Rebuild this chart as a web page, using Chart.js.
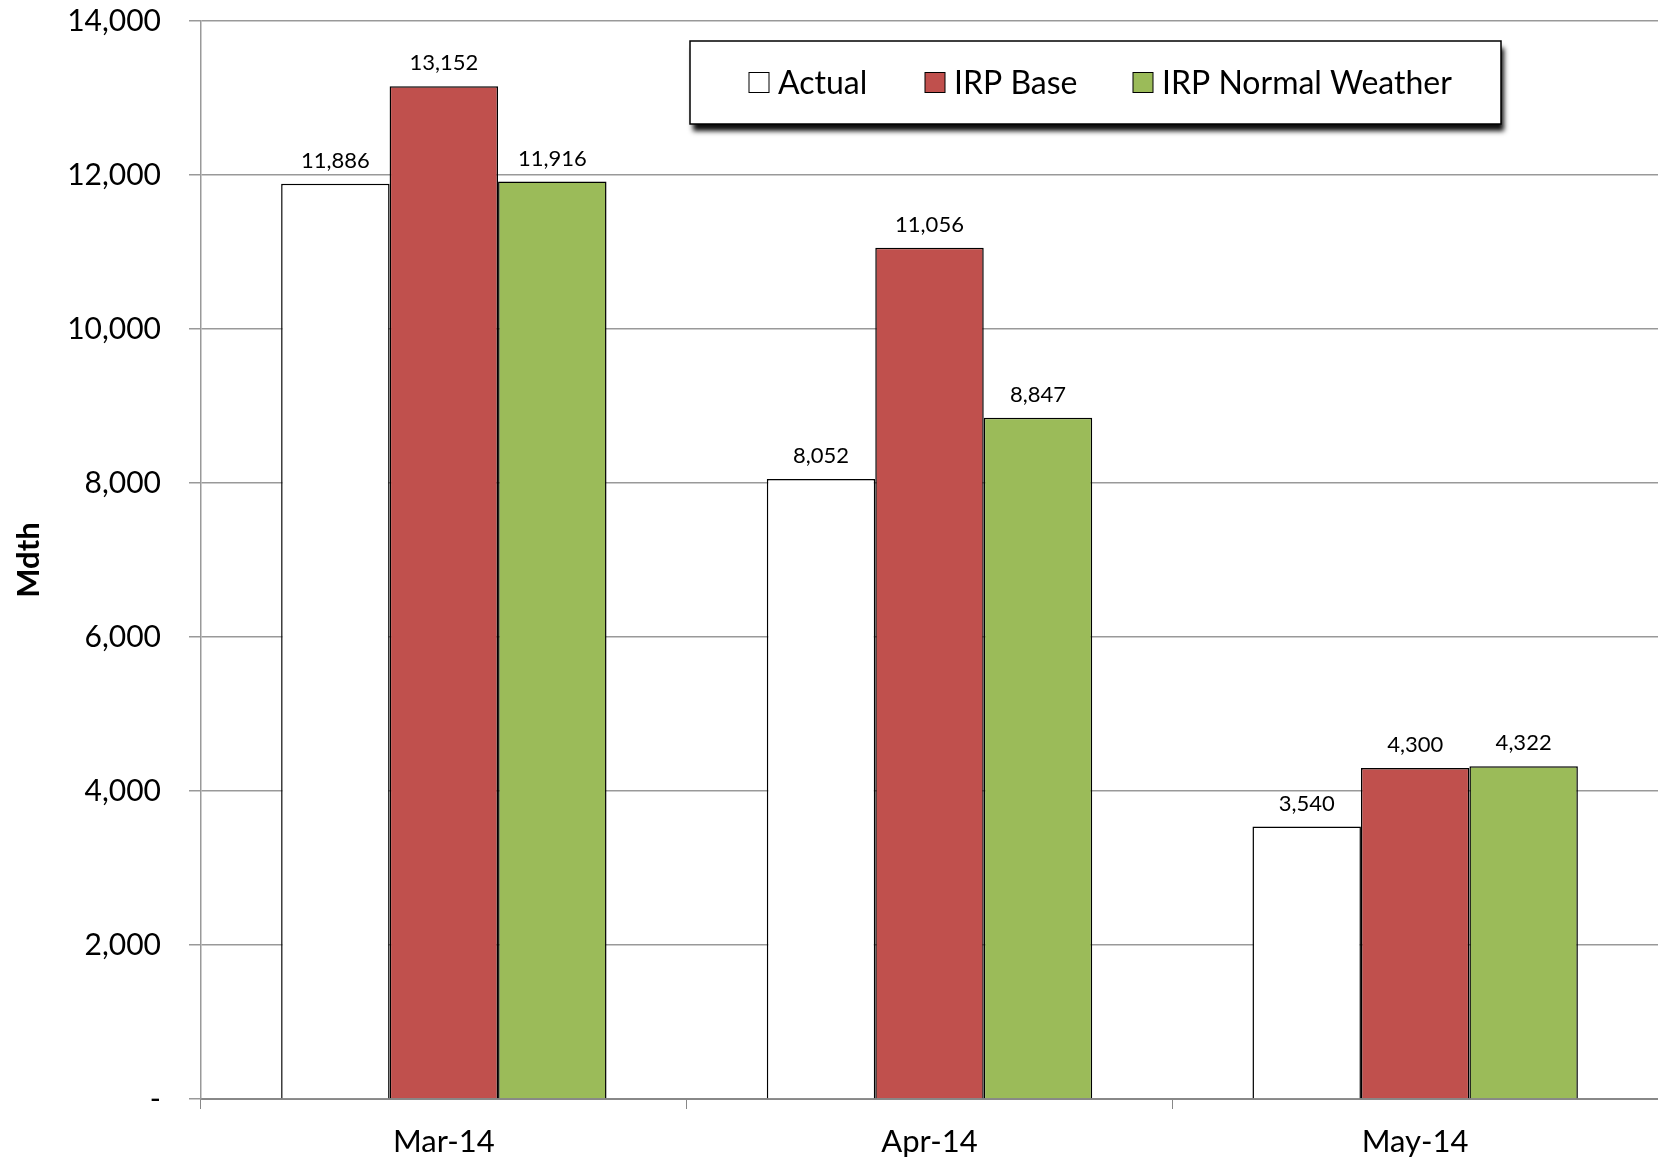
<!DOCTYPE html>
<html>
<head>
<meta charset="utf-8">
<script src="https://cdn.jsdelivr.net/npm/chart.js@4/dist/chart.umd.min.js"></script>
<style>
  html, body { margin: 0; padding: 0; background: #fff; }
  #wrap { width: 1658px; height: 1164px; position: relative; }
</style>
</head>
<body>
<div id="wrap"><canvas id="chart"></canvas></div>
<script>
// data
const months = ['Mar-14', 'Apr-14', 'May-14'];
const actual = [11886, 8052, 3540];
const irpBase = [13152, 11056, 4300];
const irpNormal = [11916, 8847, 4322];
const yTicks = [0, 2000, 4000, 6000, 8000, 10000, 12000, 14000];

const FONT = 'Lato, "Open Sans", sans-serif';
const fmt = v => v === 0 ? '-' : v.toLocaleString('en-US');

// value labels over each bar
const barLabels = {
    id: 'barLabels',
    afterDatasetsDraw(chart) {
        const ctx = chart.ctx;
        ctx.save();
        ctx.fillStyle = '#000';
        ctx.font = '22px ' + FONT;
        ctx.textAlign = 'center';
        ctx.textBaseline = 'bottom';
        chart.data.datasets.forEach((ds, i) => {
            chart.getDatasetMeta(i).data.forEach((bar, j) => {
                ctx.fillText(fmt(ds.data[j]), bar.x, bar.y - 12);
            });
        });
        ctx.restore();
    }
};

// boxed legend with drop shadow, inside the plot
const boxLegend = {
    id: 'boxLegend',
    afterDraw(chart) {
        const ctx = chart.ctx;
        const x = 690, y = 41, w = 811, h = 83;
        ctx.save();
        ctx.shadowColor = 'rgba(0,0,0,0.95)';
        ctx.shadowBlur = 5;
        ctx.shadowOffsetX = 3;
        ctx.shadowOffsetY = 7;
        ctx.fillStyle = '#fff';
        ctx.fillRect(x, y, w, h);
        ctx.restore();
        ctx.save();
        ctx.strokeStyle = '#000';
        ctx.lineWidth = 1.5;
        ctx.strokeRect(x, y, w, h);
        ctx.font = '32px ' + FONT;
        ctx.textBaseline = 'middle';
        const starts = [749, 925, 1133];
        chart.data.datasets.forEach((ds, i) => {
            const sx = starts[i], cy = y + h / 2;
            ctx.fillStyle = ds.backgroundColor;
            ctx.fillRect(sx, cy - 10, 20, 20);
            ctx.strokeStyle = '#000';
            ctx.lineWidth = 1;
            ctx.strokeRect(sx, cy - 10, 20, 20);
            ctx.fillStyle = '#000';
            ctx.fillText(ds.label, sx + 29, cy + 1);
        });
        ctx.restore();
    }
};

const barStyle = { borderColor: '#000', borderWidth: 1.5, barPercentage: 1.0, categoryPercentage: 0.67 };

new Chart(document.getElementById('chart'), {
    type: 'bar',
    data: {
        labels: months,
        datasets: [
            Object.assign({ label: 'Actual', data: actual, backgroundColor: '#ffffff' }, barStyle),
            Object.assign({ label: 'IRP Base', data: irpBase, backgroundColor: '#C0504D' }, barStyle),
            Object.assign({ label: 'IRP Normal Weather', data: irpNormal, backgroundColor: '#9BBB59' }, barStyle)
        ]
    },
    options: {
        responsive: true,
        maintainAspectRatio: false,
        animation: false,
        layout: { padding: { top: 21, right: 0, left: 10, bottom: 0 } },
        plugins: { legend: { display: false }, tooltip: { enabled: false } },
        scales: {
            x: {
                grid: { offset: true, drawOnChartArea: false, color: '#888', tickLength: 10 },
                border: { color: '#888', width: 2 },
                ticks: { color: '#000', font: { size: 31, family: FONT }, padding: 14 },
                afterFit: s => { s.height = 65; s.paddingLeft = 0; s.paddingRight = 0; }
            },
            y: {
                min: 0,
                max: 14000,
                afterBuildTicks: s => { s.ticks = yTicks.map(v => ({ value: v })); },
                grid: { color: '#999', lineWidth: 1.5, tickLength: 12 },
                border: { color: '#999', width: 1.5 },
                ticks: { color: '#000', font: { size: 30, family: FONT }, padding: 28, callback: v => fmt(v) },
                title: { display: true, text: 'Mdth', color: '#000', font: { size: 31, weight: 'bold', family: FONT }, padding: 0 },
                afterFit: s => { s.width = 191; s.paddingTop = 0; s.paddingBottom = 0; }
            }
        }
    },
    plugins: [barLabels, boxLegend]
});
</script>
</body>
</html>
